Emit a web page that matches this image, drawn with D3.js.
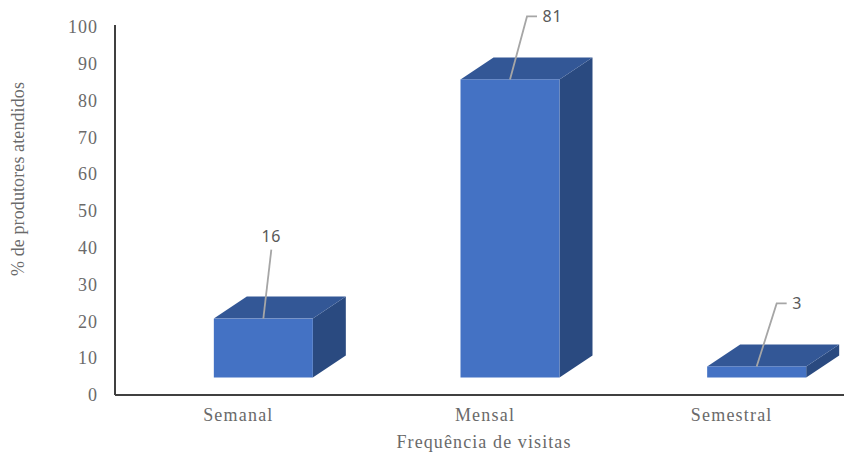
<!DOCTYPE html>
<html>
<head>
<meta charset="utf-8">
<script src="https://cdn.jsdelivr.net/npm/d3@7"></script>
<style>
  html, body { margin: 0; background: #fff; }
  svg { display: block; }
  .serif { font-family: "Liberation Serif", serif; fill: #6a6a6a; }
  .value { font-family: "Noto Sans", sans-serif; font-size: 16px; letter-spacing: 0.8px; fill: #595959; }
</style>
</head>
<body>
<svg id="chart" width="844" height="452"></svg>
<script>
const categories = ["Semanal", "Mensal", "Semestral"];
const values = [16, 81, 3];
const yTicks = [0, 10, 20, 30, 40, 50, 60, 70, 80, 90, 100];
const xTitle = "Frequência de visitas";
const yTitle = "% de produtores atendidos";

// Layout of the pseudo-3D plot
const plot = { left: 115, right: 855, top: 27, bottom: 395 };
const depth = { dx: 33, dy: 22 };
const floorLift = 17.5;
const frontShift = 25;
const colors = { front: "#4472C4", top: "#335796", side: "#2A4A80", axis: "#404040", leader: "#A6A6A6" };

const svg = d3.select("#chart");
const x = d3.scaleBand().domain(categories).range([plot.left, plot.right]).paddingInner(0.6).paddingOuter(0.3);
const y = d3.scaleLinear().domain([0, 100]).range([plot.bottom, plot.top]);
const barW = 99;
const center = c => x(c) + x.bandwidth() / 2;
const path = d3.line();

// Leader line shapes, relative to the middle of each bar's front top edge
const leaders = {
  "Semanal": { tip: [8, -69], elbow: null },
  "Mensal": { tip: [17, -63], elbow: 10 },
  "Semestral": { tip: [20, -63], elbow: 10 }
};

svg.append("g").selectAll("g")
  .data(categories.map((c, i) => ({ c, v: values[i] })))
  .join("g")
  .each(function (d) {
    const g = d3.select(this);
    const x0 = center(d.c) + frontShift - barW / 2;
    const x1 = x0 + barW;
    const yb = plot.bottom - floorLift;
    const yt = yb - (y(0) - y(d.v));

    g.append("path").attr("fill", colors.side)
      .attr("d", path([[x1, yt], [x1 + depth.dx, yt - depth.dy], [x1 + depth.dx, yb - depth.dy], [x1, yb]]) + "Z");
    g.append("path").attr("fill", colors.top)
      .attr("d", path([[x0, yt], [x0 + depth.dx, yt - depth.dy], [x1 + depth.dx, yt - depth.dy], [x1, yt]]) + "Z");
    g.append("rect").attr("fill", colors.front)
      .attr("x", x0).attr("y", yt).attr("width", barW).attr("height", yb - yt);

    const lead = leaders[d.c];
    const ax = (x0 + x1) / 2, tx = ax + lead.tip[0], ty = yt + lead.tip[1];
    const pts = [[ax, yt], [tx, ty]];
    if (lead.elbow) pts.push([tx + lead.elbow, ty]);
    g.append("path").attr("fill", "none").attr("stroke", colors.leader).attr("stroke-width", 1.8).attr("d", path(pts));

    const label = g.append("text").attr("class", "value").text(d.v);
    if (lead.elbow) label.attr("x", tx + lead.elbow + 5.5).attr("y", ty + 5.5);
    else label.attr("x", tx).attr("y", ty - 8).attr("text-anchor", "middle");
  });

// Axes: lines are kept, tick marks are dropped
const yAxis = d3.axisLeft(y).tickValues(yTicks).tickSize(0).tickPadding(17);
const xAxis = d3.axisBottom(x).tickSize(0).tickPadding(13);

const gy = svg.append("g").attr("transform", `translate(${plot.left},0)`).call(yAxis);
gy.select(".domain").attr("stroke", colors.axis).attr("stroke-width", 2).attr("d", `M0,${plot.top - 2}V${plot.bottom}`);
gy.selectAll("text").attr("class", "serif").style("font-size", "18px").style("letter-spacing", "1px").attr("fill", null);

const gx = svg.append("g").attr("transform", `translate(0,${plot.bottom})`).call(xAxis);
gx.select(".domain").attr("stroke", colors.axis).attr("stroke-width", 2).attr("d", `M${plot.left},0H844`);
gx.selectAll("text").attr("class", "serif").style("font-size", "18px").style("letter-spacing", "1.2px").attr("fill", null);

svg.append("text").attr("class", "serif").attr("x", 484).attr("y", 448).attr("text-anchor", "middle")
  .style("font-size", "18px").style("letter-spacing", "1.1px").text(xTitle);
svg.append("text").attr("class", "serif").attr("transform", "translate(24,179) rotate(-90)").attr("text-anchor", "middle")
  .style("font-size", "18px").style("letter-spacing", "0.1px").text(yTitle);
</script>
</body>
</html>
